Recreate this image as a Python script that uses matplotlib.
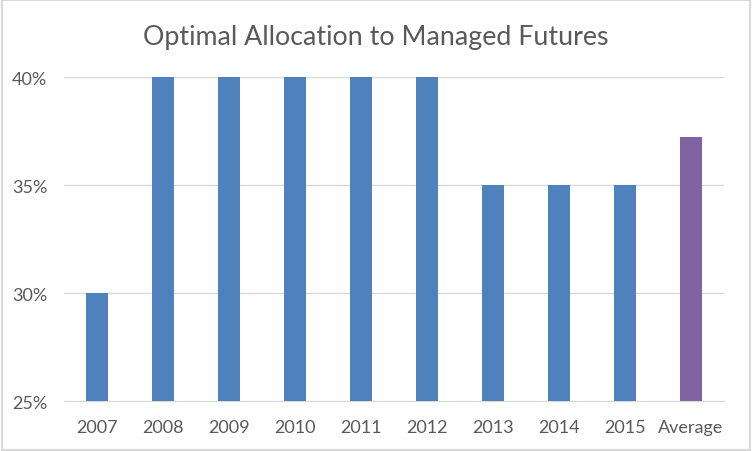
import numpy as np
import matplotlib.pyplot as plt
from matplotlib.ticker import PercentFormatter

categories = ['2007', '2008', '2009', '2010', '2011', '2012', '2013', '2014', '2015', 'Average']
allocation = [30, 40, 40, 40, 40, 40, 35, 35, 35, 37.22]
bar_colors = ['#4f81bd'] * 9 + ['#8064a2']

plt.rcParams['font.family'] = ['Lato', 'DejaVu Sans']

fig = plt.figure(figsize=(7.52, 4.52), dpi=100)
ax = fig.add_axes([0.0851, 0.1106, 0.8777, 0.7168])

ind = np.arange(len(categories))
ax.bar(ind, np.array(allocation) - 25, 0.32, bottom=25, color=bar_colors, zorder=3)

ax.set_xlim(-0.5, len(categories) - 0.5)
ax.set_ylim(25, 40)
ax.set_yticks([25, 30, 35, 40])
ax.yaxis.set_major_formatter(PercentFormatter(decimals=0))
ax.set_xticks(ind, categories)
ax.grid(axis='y', color='#d9d9d9', linewidth=1, zorder=0)
for s in ['top', 'right', 'left']:
    ax.spines[s].set_visible(False)
ax.spines['bottom'].set_color('#d9d9d9')
ax.tick_params(axis='both', length=0, labelsize=13, labelcolor='#595959')
ax.tick_params(axis='y', pad=12)
ax.tick_params(axis='x', pad=13)

fig.suptitle('Optimal Allocation to Managed Futures', y=0.945, fontsize=19.3, color='#595959')

# light frame around the whole chart
fig.patches.append(plt.Rectangle((0.002, 0.003), 0.996, 0.994, transform=fig.transFigure,
                                 fill=False, edgecolor='#d9d9d9', linewidth=1.5))

fig.savefig('out.png', dpi=100)
